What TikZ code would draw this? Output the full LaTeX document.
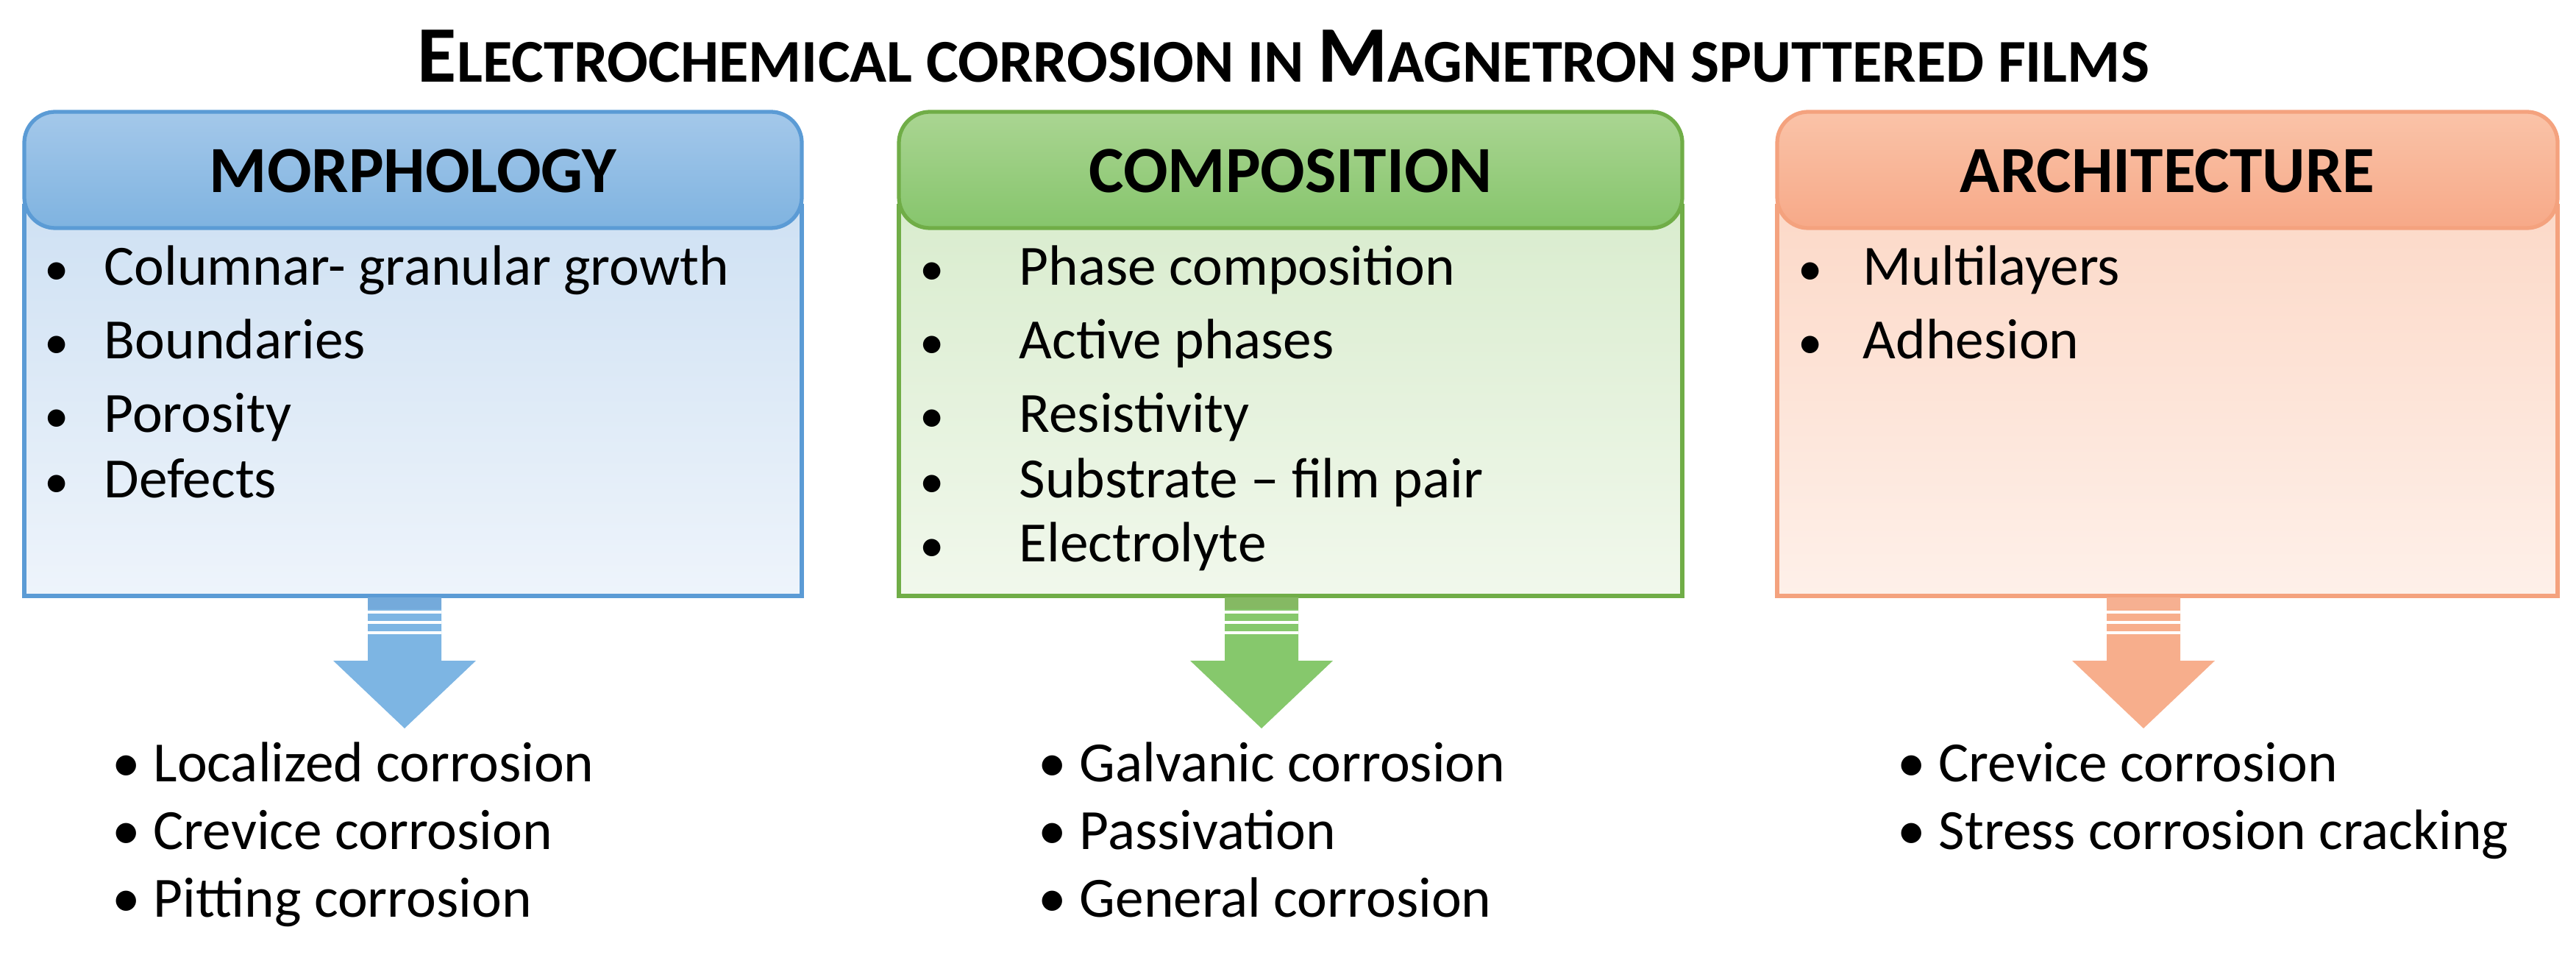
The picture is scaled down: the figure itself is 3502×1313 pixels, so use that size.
\documentclass[tikz,border=0pt]{standalone}
\usepackage{fontspec}
\setmainfont{Carlito}
\definecolor{bB}{HTML}{5B9BD5}\definecolor{bH1}{HTML}{A4C8EA}\definecolor{bH2}{HTML}{7FB3E0}
\definecolor{bL1}{HTML}{CFE1F3}\definecolor{bL2}{HTML}{EEF4FB}\definecolor{bA}{HTML}{7DB5E3}
\definecolor{gB}{HTML}{70AD47}\definecolor{gH1}{HTML}{AAD592}\definecolor{gH2}{HTML}{86C56C}
\definecolor{gL1}{HTML}{D9ECCE}\definecolor{gL2}{HTML}{F1F8EC}\definecolor{gA}{HTML}{86C86C}
\definecolor{oB}{HTML}{F4A27E}\definecolor{oH1}{HTML}{FAC3A8}\definecolor{oH2}{HTML}{F7A988}
\definecolor{oL1}{HTML}{FCD9C8}\definecolor{oL2}{HTML}{FEF0E9}\definecolor{oA}{HTML}{F7AE8C}
\newcommand{\bigc}[1]{{\fontsize{31}{36}\selectfont #1}}
\newcommand{\smc}[1]{{\fontsize{23.5}{28}\selectfont #1}}
\tikzset{
 item/.style={anchor=base west,font=\fontsize{22}{26}\selectfont,inner sep=0},
 bul/.style={anchor=base west,font=\fontsize{19}{22}\selectfont,inner sep=0},
 outc/.style={anchor=base west,font=\fontsize{22}{26}\selectfont,inner sep=0},
 head/.style={font=\bfseries\fontsize{25.5}{30}\selectfont},
}
\begin{document}
\begin{tikzpicture}[x=0.1mm,y=-0.1mm]
\useasboundingbox (0,0) rectangle (3502,1313);
\node[font=\bfseries] (title) at (1745,76) {\bigc{E}\smc{LECTROCHEMICAL CORROSION IN }\bigc{M}\smc{AGNETRON SPUTTERED FILMS}};
\foreach \n/\xa/\xb/\c/\ac/\lab in {m/33/1090/b/550/MORPHOLOGY, c/1222/2287/g/1715/COMPOSITION, a/2416/3477/o/2914/ARCHITECTURE}{
 \path[top color=\c L1,bottom color=\c L2,draw=\c B,line width=1.5pt] (\xa,280) rectangle (\xb,810);
 \path[top color=\c H1,bottom color=\c H2,draw=\c B,line width=1.5pt,rounded corners=12] (\xa,152) rectangle (\xb,310);
 \node[head] (\n h) at ({(\xa+\xb)/2},232) {\lab};
 \fill[\c A] (\ac-50,812) -- (\ac+50,812) -- (\ac+50,898) -- (\ac+97,898) -- (\ac,990) -- (\ac-97,898) -- (\ac-50,898) -- cycle;
 \fill[\c B!85] (\ac-50,812) rectangle (\ac+50,828);
 \draw[white,line width=1.2pt] (\ac-50,832) -- (\ac+50,832) (\ac-50,846) -- (\ac+50,846) (\ac-50,860) -- (\ac+50,860);
}
\foreach \y/\t [count=\i] in {388/Columnar- granular growth,488/Boundaries,587/Porosity,676/Defects}{
 \node[bul] (mb\i) at (60,\y) {•}; \node[item] (mi\i) at (141,\y) {\t};}
\foreach \y/\t [count=\i] in {388/Phase composition,488/Active phases,587/Resistivity,676/Substrate – film pair,763/Electrolyte}{
 \node[bul] (cb\i) at (1250,\y) {•}; \node[item] (ci\i) at (1385,\y) {\t};}
\foreach \y/\t [count=\i] in {388/Multilayers,488/Adhesion}{
 \node[bul] (ab\i) at (2444,\y) {•}; \node[item] (ai\i) at (2532,\y) {\t};}
\foreach \y/\t [count=\i] in {1062/Localized corrosion,1154/Crevice corrosion,1246/Pitting corrosion}{
 \node[outc] (mo\i) at (152,\y) {• \t};}
\foreach \y/\t [count=\i] in {1062/Galvanic corrosion,1154/Passivation,1246/General corrosion}{
 \node[outc] (co\i) at (1411,\y) {• \t};}
\foreach \y/\t [count=\i] in {1062/Crevice corrosion,1154/Stress corrosion cracking}{
 \node[outc] (ao\i) at (2579,\y) {• \t};}
\end{tikzpicture}
\end{document}
